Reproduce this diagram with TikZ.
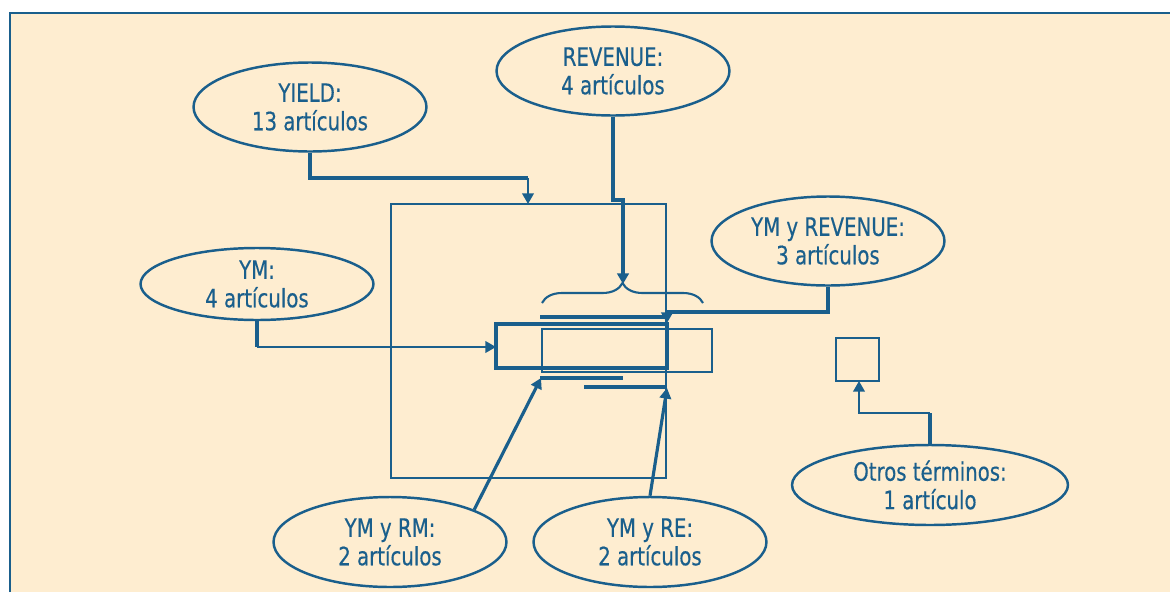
\documentclass[tikz,border=0pt]{standalone}
\usepackage{fontspec}
\setmainfont{DejaVu Sans}[FakeStretch=0.78, FakeBold=0.4]
\usetikzlibrary{arrows.meta,shapes.geometric,decorations.pathreplacing}
\definecolor{inkblue}{HTML}{1A5F8C}
\definecolor{paper}{HTML}{FEEDD0}
\tikzset{
	bubble/.style={ellipse, draw=inkblue, line width=1.4pt, text=inkblue, align=center, inner sep=0pt,
		minimum width=4.66cm, minimum height=1.78cm, font=\fontsize{14.4}{16.2}\selectfont},
	thinline/.style={draw=inkblue, line width=1.2pt},
	thickline/.style={draw=inkblue, line width=2.2pt},
	pointy/.style={-{Triangle[width=6.5pt,length=6pt]}},
}

\begin{document}
\begin{tikzpicture}[x=0.02cm, y=-0.02cm]
		%%%%% START %%%%%
		\useasboundingbox (0, 0) rectangle (1170, 592);
		\fill[paper] (10, 13) rectangle (1170, 592);
		\draw[inkblue, line width=1.1pt] (10, 592) -- (10, 13) -- (1170, 13);
		
		\draw[thinline] (391, 204) rectangle (666, 478);
		\draw[thickline] (496, 324) rectangle (667, 368);
		\draw[thinline] (542, 329) rectangle (712, 372);
		\draw[thinline] (836, 338) rectangle (879, 381);
		
		\draw[thickline] (540, 317) -- (667, 317);
		\draw[thickline] (540, 378) -- (623, 378);
		\draw[thickline] (584, 387) -- (667, 387);
		\draw[thinline, decorate, decoration={brace, amplitude=0.4cm}] (542, 303) -- (703, 303);
		
		\node[bubble] (yield) at (310, 107) {YIELD:\\13 artículos};
		\node[bubble] (revenue) at (613, 71) {REVENUE:\\4 artículos};
		\node[bubble] (ymrev) at (828, 241) {YM y REVENUE:\\3 artículos};
		\node[bubble, minimum height=1.44cm] (ym) at (257, 284) {YM:\\4 artículos};
		\node[bubble, minimum height=1.8cm] (ymrm) at (390, 542) {YM y RM:\\2 artículos};
		\node[bubble, minimum height=1.8cm] (ymre) at (650, 542) {YM y RE:\\2 artículos};
		\node[bubble, minimum width=5.52cm, minimum height=1.6cm] (otros) at (930, 485) {Otros términos:\\1 artículo};
		
		\coordinate (yieldbend) at (528, 178);
		\coordinate (bigtop) at (528, 204);
		\coordinate (revjog) at (623, 200);
		\coordinate (bracetip) at (623, 284);
		\coordinate (ymrevbend) at (667, 312);
		\coordinate (ymrevtip) at (667, 323);
		\coordinate (ymbend) at (257, 347);
		\coordinate (ymtip) at (496, 347);
		\coordinate (rmtip) at (541, 378);
		\coordinate (retip) at (667, 388);
		\coordinate (otrosbend) at (930, 413);
		\coordinate (boxtip) at (859, 381);
		
		\draw[thickline] (yield.south) |- (yieldbend);
		\draw[thinline, pointy] (yieldbend) -- (bigtop);
		\draw[thickline, pointy] (revenue.south) |- (revjog) -- (bracetip);
		\draw[thickline, pointy] (ymrev.south) |- (ymrevbend) -- (ymrevtip);
		\draw[thickline] (ym.south) -- (ymbend);
		\draw[thinline, pointy] (ymbend) -- (ymtip);
		\draw[thickline, line width=1.8pt, pointy] (ymrm.21) -- (rmtip);
		\draw[thickline, line width=1.8pt, pointy] (ymre.north) -- (retip);
		\draw[thickline] (otros.north) -- (otrosbend);
		\draw[thinline, pointy] (otrosbend) -| (boxtip);
		
		%%%%% END %%%%%
\end{tikzpicture}
\end{document}
